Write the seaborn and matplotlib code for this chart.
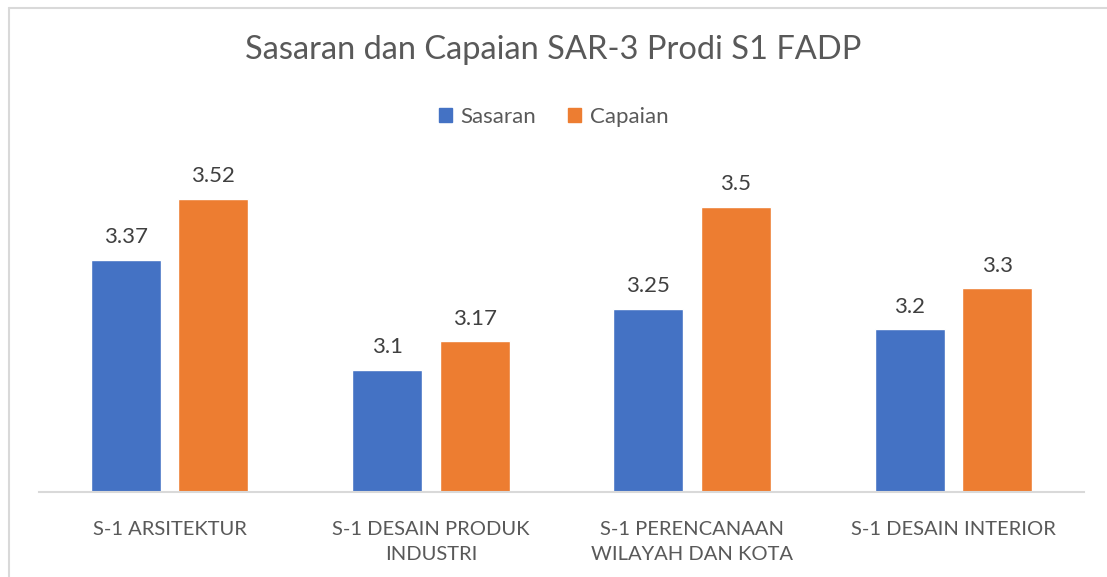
import matplotlib
matplotlib.use("Agg")
import matplotlib.pyplot as plt
from matplotlib.lines import Line2D
import pandas as pd
import seaborn as sns

# data
prodi = ["S-1 ARSITEKTUR", "S-1 DESAIN PRODUK\nINDUSTRI",
         "S-1 PERENCANAAN\nWILAYAH DAN KOTA", "S-1 DESAIN INTERIOR"]
sasaran = [3.37, 3.1, 3.25, 3.2]
capaian = [3.52, 3.17, 3.5, 3.3]
series = ["Sasaran", "Capaian"]
colours = ["#4472C4", "#ED7D31"]

sns.set_theme(style="white")
plt.rcParams["font.family"] = ["Lato", "DejaVu Sans"]

data = pd.DataFrame({
    "prodi": prodi * 2,
    "nilai": sasaran + capaian,
    "seri": [series[0]] * len(prodi) + [series[1]] * len(prodi),
})

W, H = 1107, 577
fig = plt.figure(figsize=(W / 100, H / 100), dpi=100)
ax = fig.add_axes([39 / W, (H - 492) / H, (1084 - 39) / W, (492 - 160) / H])

sns.barplot(data=data, x="prodi", y="nilai", hue="seri", palette=colours,
            width=0.67, gap=0.2, ax=ax, legend=False, saturation=1)
ax.set_ylim(2.8, 3.615)
ax.set_xlim(-0.5, 3.5)

for cont in ax.containers:
    ax.bar_label(cont, labels=[f"{v:g}" for v in cont.datavalues],
                 padding=9, fontsize=16, color="#404040")

ax.set_xlabel("")
ax.set_ylabel("")
ax.set_yticks([])
for s in ["top", "right", "left"]:
    ax.spines[s].set_visible(False)
ax.spines["bottom"].set_color("#d9d9d9")
ax.spines["bottom"].set_linewidth(1.5)
ax.tick_params(axis="x", length=0, pad=21, labelsize=14.5, labelcolor="#595959")
for lab in ax.get_xticklabels():
    lab.set_linespacing(1.55)

fig.text(0.5, 1 - 50 / H, "Sasaran dan Capaian SAR-3 Prodi S1 FADP",
         ha="center", va="center", fontsize=23.5, color="#595959")

handles = [plt.Rectangle((0, 0), 1, 1, color=c) for c in colours]
fig.legend(handles, series, loc="center", bbox_to_anchor=(0.5, 1 - 117 / H),
           ncol=2, frameon=False, fontsize=16, labelcolor="#595959",
           handlelength=0.6, handleheight=0.6, handletextpad=0.4, columnspacing=1.4)

# chart border (cut off at the right and bottom)
fig.add_artist(Line2D([9 / W, 9 / W], [0, 1 - 8 / H], color="#d9d9d9", lw=1.5,
                      transform=fig.transFigure))
fig.add_artist(Line2D([9 / W, 1], [1 - 8 / H, 1 - 8 / H], color="#d9d9d9", lw=1.5,
                      transform=fig.transFigure))

plt.savefig("out.png", dpi=100)
